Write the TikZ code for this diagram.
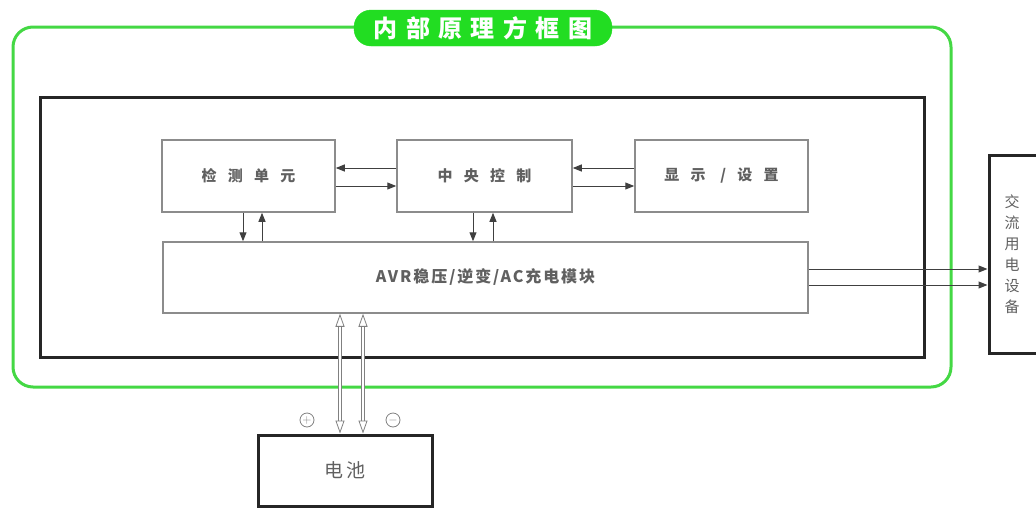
\documentclass[tikz,border=0pt]{standalone}
\usepackage{fontspec}
\setmainfont{Noto Sans CJK SC}
\newfontfamily\widecjk[LetterSpace=75]{Noto Sans CJK SC}
\newfontfamily\midcjk[LetterSpace=12]{Noto Sans CJK SC}
\newfontfamily\titlecjk[LetterSpace=35]{Noto Sans CJK SC}
\usetikzlibrary{arrows.meta}
\definecolor{framegreen}{HTML}{44D844}
\definecolor{pillgreen}{HTML}{22DD22}
\definecolor{labelgray}{HTML}{606060}
\definecolor{boxgray}{HTML}{8C8C8C}

\begin{document}
\begin{tikzpicture}[x=1pt,y=-1pt,
    unitbox/.style={draw=boxgray, line width=1.5pt, text=labelgray, inner sep=0pt},
    heavybox/.style={draw=black!85, line width=3pt, text=labelgray, inner sep=0pt},
    sig/.style={draw=black!75, line width=1pt, -{Triangle[length=9pt,width=7pt]}},
    pow/.style={draw=gray, line width=0.8pt, double=white, double distance=2.6pt,
        {Triangle[open,length=13pt,width=9pt]}-{Triangle[open,length=13pt,width=9pt]}},
    pole/.style={circle, draw=gray, line width=0.8pt, text=gray, minimum size=14pt, inner sep=0pt, font=\fontsize{13}{13}\selectfont}]
  \useasboundingbox (0,0) rectangle (1036,509);

  % outer frames
  \draw [framegreen, line width=3pt, rounded corners=20pt] (13,27) rectangle (951,387);
  \node [fill=pillgreen, draw=pillgreen, rounded corners=17pt, minimum width=258pt, minimum height=36pt, inner sep=0pt, text=white, font=\titlecjk\bfseries\fontsize{24}{24}\selectfont] (title) at (483,28) {内部原理方框图};
  \draw [black!85, line width=3pt] (40,97) rectangle (924,357);

  % units
  \node [unitbox, minimum width=173pt, minimum height=72pt, font=\widecjk\bfseries\fontsize{15}{15}\selectfont] (det) at (248.5,176) {检测单元};
  \node [unitbox, minimum width=175pt, minimum height=72pt, font=\widecjk\bfseries\fontsize{15}{15}\selectfont] (ctrl) at (484.5,176) {中央控制};
  \node [unitbox, minimum width=173pt, minimum height=72pt, font=\widecjk\bfseries\fontsize{15}{15}\selectfont] (disp) at (721.5,176) {显示 /设置};
  \node [unitbox, minimum width=645pt, minimum height=71pt, font=\midcjk\bfseries\fontsize{16}{16}\selectfont] (avr) at (485.5,277.5) {AVR稳压/逆变/AC充电模块};

  \node [heavybox, minimum width=60pt, minimum height=198pt] (load) at (1019,254) {};
  \node [text=labelgray, align=center, font=\fontsize{15}{21}\selectfont] (loadtext) at (1012,254) {交\\流\\用\\电\\设\\备};
  \node [heavybox, minimum width=174pt, minimum height=71pt, font=\midcjk\fontsize{19}{19}\selectfont] (bat) at (345,470.5) {电池};

  % signal arrows
  \draw [sig] ([yshift=8pt]ctrl.west) -- ([yshift=8pt]det.east);
  \draw [sig] ([yshift=-10pt]det.east) -- ([yshift=-10pt]ctrl.west);
  \draw [sig] ([yshift=8pt]disp.west) -- ([yshift=8pt]ctrl.east);
  \draw [sig] ([yshift=-10pt]ctrl.east) -- ([yshift=-10pt]disp.west);

  \draw [sig] ([xshift=-5.5pt]det.south) -- ([xshift=-5.5pt]det.south |- avr.north);
  \draw [sig] ([xshift=13.5pt]det.south |- avr.north) -- ([xshift=13.5pt]det.south);
  \draw [sig] ([xshift=-11.5pt]ctrl.south) -- ([xshift=-11.5pt]ctrl.south |- avr.north);
  \draw [sig] ([xshift=8.5pt]ctrl.south |- avr.north) -- ([xshift=8.5pt]ctrl.south);

  \draw [sig] ([yshift=8.5pt]avr.east) -- ([yshift=8.5pt]avr.east -| load.west);
  \draw [sig] ([yshift=-7.5pt]avr.east) -- ([yshift=-7.5pt]avr.east -| load.west);

  % battery leads
  \draw [pow] ([xshift=-5pt]bat.north |- avr.south) -- ([xshift=-5pt]bat.north);
  \draw [pow] ([xshift=18pt]bat.north |- avr.south) -- ([xshift=18pt]bat.north);
  \node [pole] (plus) at (307,420) {$+$};
  \node [pole] (minus) at (393,420) {$-$};
\end{tikzpicture}
\end{document}
